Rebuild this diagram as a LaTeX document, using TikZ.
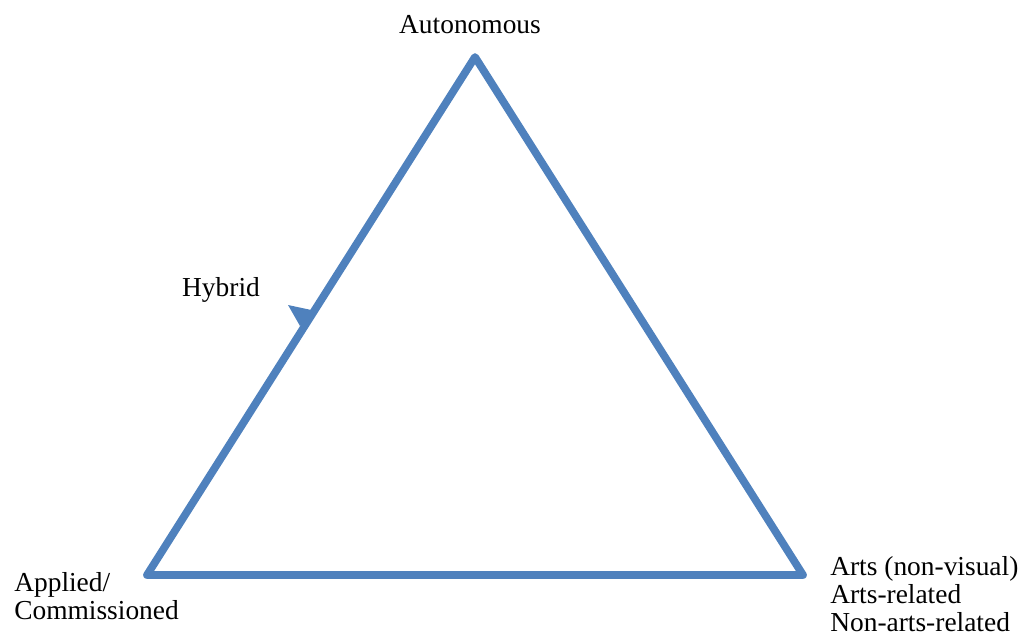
\documentclass[tikz,border=0pt]{standalone}
\usepackage{fontspec}
\setmainfont{Liberation Serif}
\usetikzlibrary{positioning}

\definecolor{triblue}{HTML}{4F81BD}

\begin{document}
\begin{tikzpicture}[x=0.025cm,y=-0.025cm]
\tikzstyle{every node} = [font = \fontsize{19.5}{20}\selectfont, inner sep=0pt]
\tikzstyle{side} = [draw=triblue, line width=5.5pt, line join=round]
\useasboundingbox (0,0) rectangle (1030,636);

% vertici
\coordinate (top) at (475, 57);
\coordinate (left) at (147, 575);
\coordinate (right) at (803, 575);

\draw[side] (top) -- (left) -- (right) -- cycle;

% etichette
\node (auto) at (470, 25) {Autonomous};
\node (hyb) at (221, 290) {Hybrid};
\node[align=left, anchor=west] (appl) at (14, 596) {Applied/\\Commissioned};
\node[align=left, anchor=west] (arts) at (830, 594) {Arts (non-visual)\\Arts-related\\Non-arts-related};

% segno su Hybrid
\fill[triblue] (288, 305) -- (316, 311) -- (300, 326) -- cycle;

\end{tikzpicture}
\end{document}
